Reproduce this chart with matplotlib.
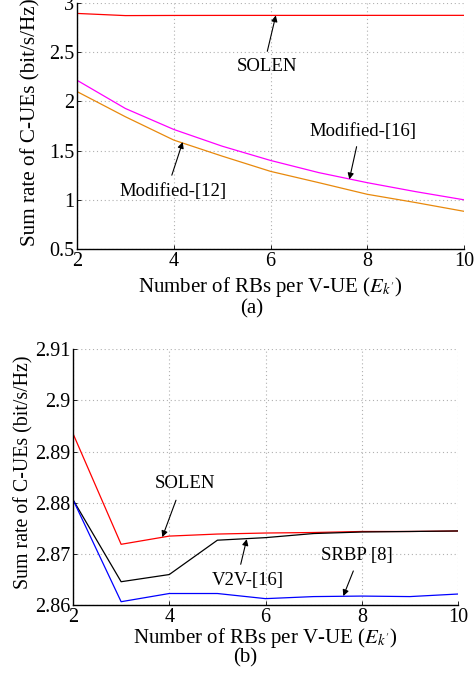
import matplotlib
matplotlib.use("Agg")
import matplotlib.pyplot as plt

plt.rcParams['font.family'] = ['Liberation Serif', 'DejaVu Serif']
plt.rcParams['mathtext.fontset'] = 'stix'

x = [2, 3, 4, 5, 6, 7, 8, 9, 10]

# Panel (a)
solen_a = [2.894, 2.872, 2.8735, 2.874, 2.8741, 2.8742, 2.8744, 2.8744, 2.8745]
mod16_a = [2.215, 1.928, 1.715, 1.545, 1.400, 1.276, 1.174, 1.083, 1.000]
mod12_a = [2.100, 1.844, 1.607, 1.444, 1.289, 1.174, 1.056, 0.972, 0.883]

# Panel (b)
solen_b = [2.8935, 2.8719, 2.8735, 2.8739, 2.8741, 2.8742, 2.8744, 2.8744, 2.8745]
v2v_b = [2.8806, 2.8646, 2.8660, 2.8727, 2.8732, 2.8740, 2.8743, 2.8744, 2.8745]
srbp_b = [2.8806, 2.8607, 2.8623, 2.8623, 2.8613, 2.8617, 2.8618, 2.8617, 2.8622]

xticks = [2, 4, 6, 8, 10]
yticks_a = [0.5, 1, 1.5, 2, 2.5, 3]
ytick_labels_a = ['0.5', '1', '1.5', '2', '2.5', '3']
yticks_b = [2.86, 2.87, 2.88, 2.89, 2.9, 2.91]
ytick_labels_b = ['2.86', '2.87', '2.88', '2.89', '2.9', '2.91']

xlabel = "Number of RBs per V-UE ($E_{k'}$)"
ylabel = "Sum rate of C-UEs (bit/s/Hz)"

fig = plt.figure(figsize=(4.74, 6.77), dpi=100)
ax1 = fig.add_axes([77/474, 1-249/677, (464-77)/474, (249-3)/677])
ax2 = fig.add_axes([73/474, 1-605.3/677, (458-73)/474, (605.3-349)/677])

def style(ax, yt, ytl, ylim, xpad, ylx, yly, yfs):
    ax.set_xlim(2, 10)
    ax.set_ylim(*ylim)
    ax.set_xticks(xticks)
    ax.set_xticklabels([str(t) for t in xticks])
    ax.set_yticks(yt)
    ax.set_yticklabels(ytl)
    ax.grid(True, linestyle=(0, (1, 2.5)), color='#b0b0b0', linewidth=0.8)
    for s in ['top', 'right']:
        ax.spines[s].set_visible(False)
    for s in ['left', 'bottom']:
        ax.spines[s].set_linewidth(1.0)
    ax.tick_params(direction='in', length=3, width=0.6, labelsize=14.5, pad=2)
    ax.set_xlabel(xlabel, fontsize=15, labelpad=xpad)
    ax.set_ylabel(ylabel, fontsize=yfs, va='center')
    ax.yaxis.set_label_coords(ylx, yly)

lw = 0.9
ax1.plot(x, solen_a, color='#ff0000', lw=lw)
ax1.plot(x, mod16_a, color='#ff00ff', lw=lw)
ax1.plot(x, mod12_a, color='#e8890c', lw=lw)
style(ax1, yticks_a, ytick_labels_a, (0.5, 3), 3, -0.119, 0.515, 15.2)

ax2.plot(x, solen_b, color='#ff0000', lw=lw)
ax2.plot(x, v2v_b, color='#000000', lw=lw)
ax2.plot(x, srbp_b, color='#0000ff', lw=lw)
style(ax2, yticks_b, ytick_labels_b, (2.86, 2.91), -1, -0.127, 0.52, 14.3)

ap = dict(arrowstyle='-|>', color='black', lw=0.8, mutation_scale=9, shrinkA=0, shrinkB=0)

def ann(ax, text, head, tail, tpos):
    ax.annotate('', xy=head, xytext=tail, arrowprops=ap)
    ax.text(tpos[0], tpos[1], text, fontsize=13.5, ha='center', va='center')

ann(ax1, 'SOLEN', (6.11, 2.874), (5.934, 2.509), (5.92, 2.35))
ann(ax1, 'Modified-[12]', (4.185, 1.587), (3.96, 1.25), (3.98, 1.08))
ann(ax1, 'Modified-[16]', (7.63, 1.208), (7.78, 1.54), (7.906, 1.69))

ann(ax2, 'SOLEN', (3.856, 2.8733), (4.14, 2.8805), (4.327, 2.8838))
ann(ax2, 'V2V-[16]', (5.61, 2.8729), (5.485, 2.8680), (5.64, 2.8649))
ann(ax2, 'SRBP [8]', (7.617, 2.8618), (7.825, 2.8667), (7.908, 2.8698))

fig.text(252/474, 1-309/677, '(a)', fontsize=15, ha='center', va='center')
fig.text(245/474, 1-658/677, '(b)', fontsize=15, ha='center', va='center')

fig.savefig('out.png', dpi=100)
